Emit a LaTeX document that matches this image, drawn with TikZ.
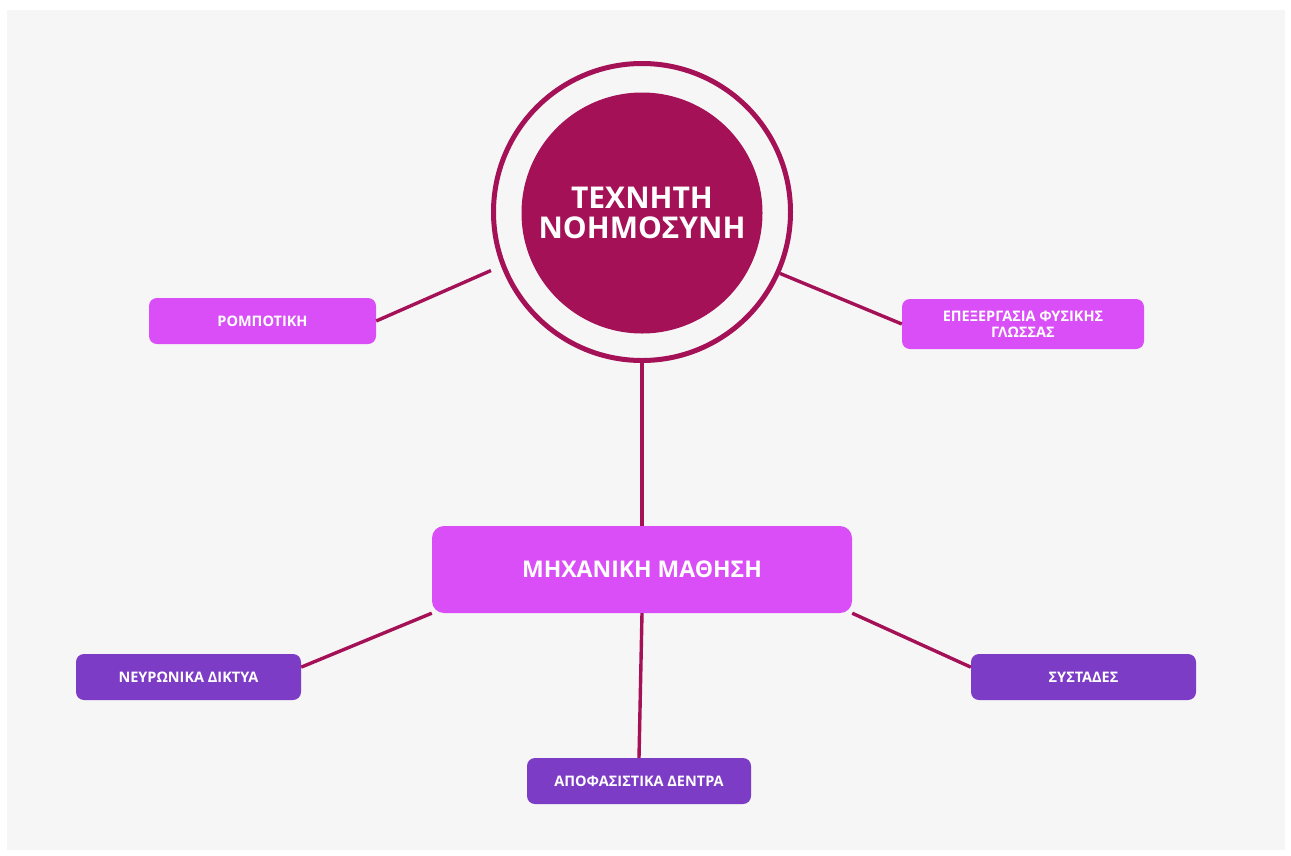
\documentclass[tikz,border=0pt]{standalone}
\usepackage{fontspec}
\setmainfont{Open Sans}
\definecolor{aimaroon}{HTML}{A41157}
\definecolor{aipink}{HTML}{D94EF6}
\definecolor{aipurple}{HTML}{7C3CC5}
\definecolor{aipanel}{HTML}{F6F6F6}

\begin{document}
\begin{tikzpicture}[x=1pt,y=-1pt,
	box/.style={rounded corners=8pt,minimum width=225pt,minimum height=46pt,inner sep=0pt,text=white,align=center,font=\bfseries\fontsize{14.5}{15.5}\selectfont},
	link/.style={aimaroon,line width=3.4pt}]
					\useasboundingbox (0,0) rectangle (1291,855);
					\fill[white] (0,0) rectangle (1291,855);
					\fill[aipanel] (7,10) rectangle (1285,850);
						\node(a)[circle,draw=aimaroon,line width=5pt,minimum size=297pt,inner sep=0pt] at (642,212) {};
						\node(b)[circle,fill=aimaroon,minimum size=241pt,inner sep=0pt,text=white,align=center,font=\bfseries\fontsize{30}{30}\selectfont] at (642,213) {ΤΕΧΝΗΤΗ\\ΝΟΗΜΟΣΥΝΗ};
						\node(c)[box,fill=aipink,minimum width=227pt] at (262.5,321) {ΡΟΜΠΟΤΙΚΗ};
						\node(d)[box,fill=aipink,minimum width=242pt,minimum height=50pt] at (1023,324) {ΕΠΕΞΕΡΓΑΣΙΑ ΦΥΣΙΚΗΣ\\ΓΛΩΣΣΑΣ};
						\node(e)[box,fill=aipink,rounded corners=12pt,minimum width=420pt,minimum height=87pt,font=\bfseries\fontsize{23}{25}\selectfont] at (642,569.5) {ΜΗΧΑΝΙΚΗ ΜΑΘΗΣΗ};
						\node(f)[box,fill=aipurple] at (188.5,677) {ΝΕΥΡΩΝΙΚΑ ΔΙΚΤΥΑ};
						\node(g)[box,fill=aipurple,minimum width=224pt] at (639,781) {ΑΠΟΦΑΣΙΣΤΙΚΑ ΔΕΝΤΡΑ};
						\node(h)[box,fill=aipurple] at (1083.5,677) {ΣΥΣΤΑΔΕΣ};
						\draw[link,shorten >=11pt] (c.east) -- (a.201);
						\draw[link] (a.336) -- (d.west);
						\draw[link] (a.south) -- (e.north);
						\draw[link] (e.south west) -- (f.5);
						\draw[link] (e.south) -- (g.north);
						\draw[link] (e.south east) -- (h.175);
				\end{tikzpicture}
\end{document}
